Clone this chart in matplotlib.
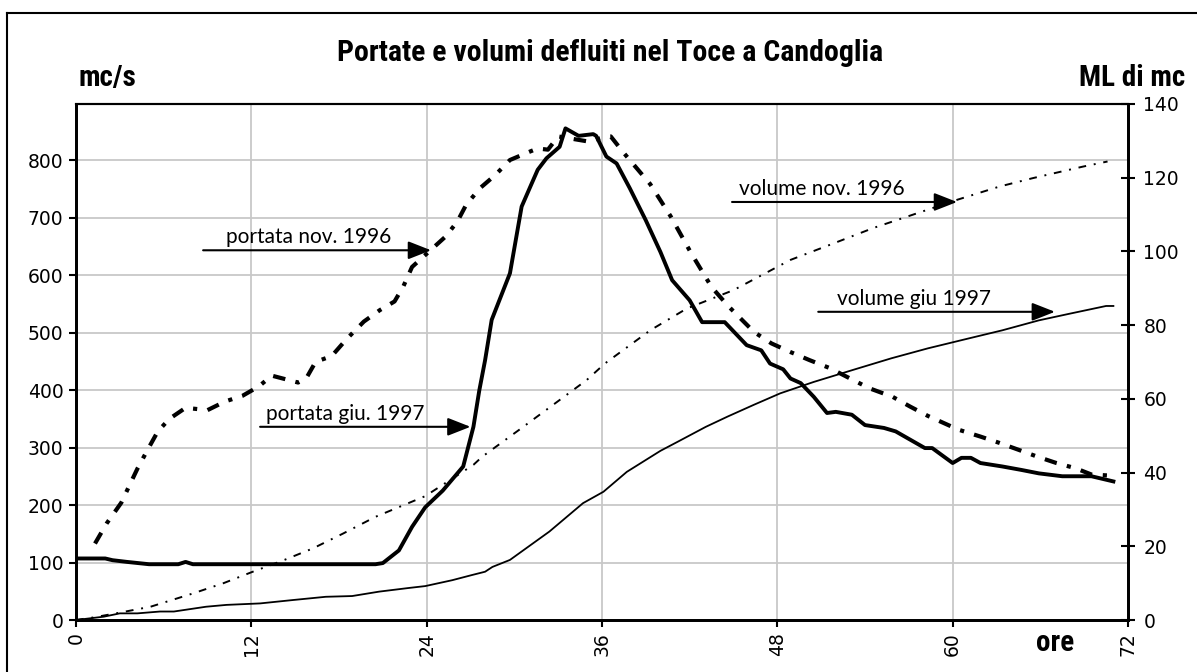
import matplotlib
matplotlib.use("Agg")
import matplotlib.pyplot as plt
from matplotlib import font_manager
from matplotlib.lines import Line2D

# portata giugno 1997 (mc/s)
giu_ore = [0, 2, 2.5, 3.5, 5, 7, 7.5, 8, 20.5, 21, 22.1, 23.0, 23.9, 25.1, 26.5,
           27.2, 27.6, 28.0, 28.45, 29.7, 30.5, 31.1, 31.6, 32.2, 33.1, 33.5,
           34.4, 35.4, 35.6, 36.3, 37.0, 37.9, 39, 40, 40.8, 42.0, 42.85, 44.4,
           45.9, 46.9, 47.5, 48.4, 48.9, 49.6, 50.5, 51.4, 52.0, 53.1, 54.0,
           55.3, 56.1, 58.1, 58.6, 60.0, 60.6, 61.25, 61.9, 63.4, 64.7, 65.9,
           67.5, 69.5, 71.0]
giu_portata = [107, 107, 104, 101, 97, 97, 101, 97, 97, 99, 121, 162, 196, 225, 267,
               336, 399, 452, 522, 603, 719, 754, 783, 803, 823, 855,
               842, 845, 842, 806, 794, 751, 695, 640, 591, 556, 518, 518,
               478, 469, 446, 436, 420, 412, 388, 360, 362, 357, 339,
               334, 328, 299, 299, 273, 282, 282, 273, 267, 261, 255,
               250, 250, 241]

# portata novembre 1996 (mc/s)
nov_ore = [1.3, 2.1, 3.1, 3.6, 4.2, 4.9, 5.6, 6.4, 7.5, 9.0, 10.2, 11.4, 12.5, 13.4,
           15.2, 15.75, 16.4, 17.5, 18.5, 19.7, 20.8, 21.8, 22.4, 23.0, 25.3,
           26.1, 26.7, 27.65, 28.7, 29.7, 31.1, 31.6, 32.3, 33.0, 35.1, 36.3,
           36.6, 37.5, 39.3, 40.7, 42.1, 43.5, 44.6, 46.4, 47.6, 48.9, 50.2,
           51.6, 52.75, 54.3, 55.9, 57.1, 58.3, 60.4, 61.9, 63.2, 64.4, 65.8,
           67.1, 68.4, 69.5, 70.9]
nov_portata = [133, 168, 204, 231, 263, 296, 328, 350, 369, 365, 380, 390, 406, 425,
               413, 420, 449, 459, 488, 519, 539, 554, 580, 614, 667,
               693, 722, 751, 774, 800, 815, 820, 818, 841, 832, 841,
               841, 812, 758, 702, 638, 579, 547, 501, 481, 466, 452,
               438, 423, 403, 388, 371, 355, 331, 319, 308, 297, 284,
               273, 264, 253, 251]

# volume novembre 1996 (milioni di mc)
vol_nov_ore = [0, 1.2, 3, 5.1, 8.0, 10.1, 12.1, 14.2, 16.2, 18.25, 20.5, 23.9, 27.2,
               27.8, 30.4, 32.9, 34.95, 36.2, 39.3, 41.8, 45.0, 48.9, 51.6, 54.6,
               57.6, 60.3, 63.2, 65.5, 68.9, 70.6]
vol_nov = [0, 0.7, 2.0, 3.6, 7.2, 10.0, 13.1, 16.2, 19.4, 23.4, 28.0, 33.6, 42.1,
           44.3, 51.8, 59.1, 65.1, 69.6, 78.6, 84.5, 89.5, 97.7, 101.8, 106.4,
           110.4, 114.0, 117.6, 119.9, 123.0, 124.4]

# volume giugno 1997 (milioni di mc)
vol_giu_ore = [0, 1.9, 3.0, 4.2, 5.75, 6.7, 8.9, 10.3, 12.6, 14.8, 17.1, 18.9, 20.75,
               22.8, 23.9, 25.75, 27.1, 28.0, 28.5, 29.7, 32.4, 34.7, 36.1, 37.7,
               40.0, 41.2, 43.1, 44.6, 46.4, 48.2, 50.5, 53.3, 55.8, 58.3, 61.1,
               63.4, 65.9, 68.0, 70.5, 71.0]
vol_giu = [0, 0.9, 1.8, 1.8, 2.3, 2.3, 3.6, 4.1, 4.5, 5.4, 6.3, 6.5, 7.7,
           8.7, 9.2, 10.8, 12.2, 13.1, 14.4, 16.3, 24.0, 31.7, 34.8, 40.2,
           45.9, 48.4, 52.4, 55.2, 58.4, 61.5, 64.6, 68.0, 71.0, 73.7, 76.4,
           78.6, 81.3, 83.1, 85.2, 85.2]

x_ticks = [0, 12, 24, 36, 48, 60, 72]
y_ticks = [0, 100, 200, 300, 400, 500, 600, 700, 800]
y2_ticks = [0, 20, 40, 60, 80, 100, 120, 140]


def pick_font(names):
    for name in names:
        try:
            font_manager.findfont(name, fallback_to_default=False)
            return name
        except ValueError:
            continue
    return "DejaVu Sans"


narrow = pick_font(["Roboto Condensed", "Liberation Sans Narrow", "DejaVu Sans"])
label_font = pick_font(["Lato", "Open Sans", "DejaVu Sans"])
plain = "DejaVu Sans"

W, H = 1197, 672
fig = plt.figure(figsize=(W / 100, H / 100), dpi=100)
ax = fig.add_axes([76 / W, 52 / H, (1128 - 76) / W, (620 - 104) / H])
ax2 = ax.twinx()

ax.set_xlim(0, 72)
ax.set_ylim(0, 897.4)
ax2.set_ylim(0, 140)

ax.grid(True, color="#c8c8c8", lw=1.3)
ax.set_axisbelow(True)

ax.plot(giu_ore, giu_portata, color="black", lw=2.8, solid_joinstyle="round", zorder=4)
ax.plot(nov_ore, nov_portata, color="black", lw=3.0,
        linestyle=(0, (3, 2.5, 1, 2.5)), zorder=4)
ax2.plot(vol_nov_ore, vol_nov, color="black", lw=1.4,
         linestyle=(0, (4, 4, 1, 4)))
ax2.plot(vol_giu_ore, vol_giu, color="black", lw=1.3)

ax.set_xticks(x_ticks)
ax.set_xticklabels([str(t) for t in x_ticks], rotation=90, fontsize=13.5, family=plain)
ax.set_yticks(y_ticks)
ax.set_yticklabels([str(t) for t in y_ticks], fontsize=13.5, family=plain)
ax2.set_yticks(y2_ticks)
ax2.set_yticklabels([str(t) for t in y2_ticks], fontsize=13.5, family=plain)

ax.tick_params(axis="x", direction="out", length=5, width=1.5, pad=4)
ax.tick_params(axis="y", direction="out", length=5, width=1.5, pad=4)
ax2.tick_params(axis="y", direction="inout", length=10, width=1.5, pad=6)

for a in (ax, ax2):
    for side in ("left", "bottom", "right"):
        a.spines[side].set_linewidth(2.0)
    a.spines["top"].set_linewidth(1.5)

arrow = dict(arrowstyle="-|>,head_length=1.4,head_width=0.55", color="black",
             lw=1.5, shrinkA=0, shrinkB=0, mutation_scale=10)
labels = [
    ("portata nov. 1996", 8.7, 24.3, 643, 10.3),
    ("portata giu. 1997", 12.6, 27.0, 336, 13.0),
    ("volume nov. 1996", 44.9, 60.3, 727, 45.4),
    ("volume giu 1997", 50.8, 67.0, 536, 52.1),
]
for text, x0, x1, yv, xt in labels:
    ax.annotate("", xy=(x1, yv), xytext=(x0, yv), arrowprops=arrow, zorder=6)
    ax.text(xt, yv + 12, text, fontsize=15, family=label_font, ha="left",
            va="baseline", zorder=6)

fig.text(610 / W, 1 - 53 / H, "Portate e volumi defluiti nel Toce a Candoglia",
         fontsize=21.5, fontweight="bold", family=narrow, ha="center", va="center")
fig.text(78 / W, 1 - 78 / H, "mc/s", fontsize=21, fontweight="bold", family=narrow,
         ha="left", va="center")
fig.text(1185 / W, 1 - 78 / H, "ML di mc", fontsize=21, fontweight="bold", family=narrow,
         ha="right", va="center")
fig.text(1055 / W, 1 - 643 / H, "ore", fontsize=21, fontweight="bold", family=narrow,
         ha="center", va="center")

# cornice esterna
fig.add_artist(Line2D([7 / W, 7 / W], [0, 1 - 13 / H], transform=fig.transFigure,
                      color="black", lw=1.5))
fig.add_artist(Line2D([7 / W, 1], [1 - 13 / H, 1 - 13 / H], transform=fig.transFigure,
                      color="black", lw=1.5))

fig.savefig("out.png", dpi=100)
